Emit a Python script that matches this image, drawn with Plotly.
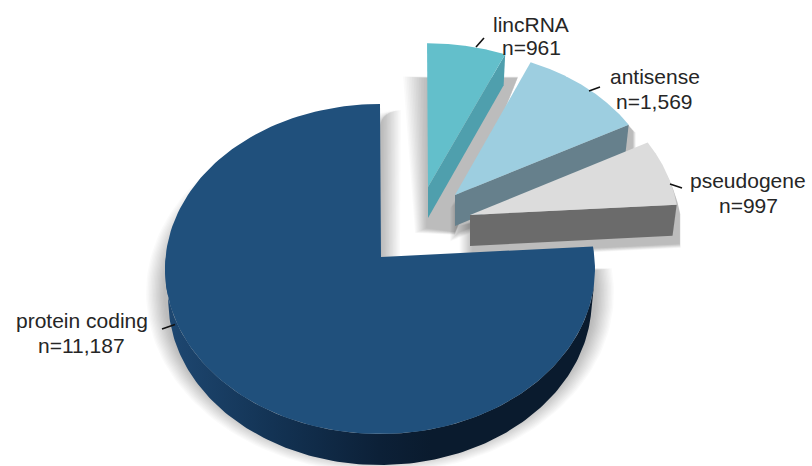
import numpy as np
import plotly.graph_objects as go

# ---- data ----
categories = ["lincRNA", "antisense", "pseudogene", "protein coding"]
counts = [961, 1569, 997, 11187]

# ---- style ----
face_colors = ["#63bfcb", "#9dcee0", "#dcdcdc", "#20507c"]
side_colors = ["#4f9fad", "#66808c", "#6b6b6b", "#0f2a45"]
font_family = "Liberation Sans, Arial, sans-serif"
text_color = "#262626"

# ---- projection of the tilted disc, in pixel-valued axis units ----
CX, CY, A, B = 380.0, 269.0, 215.0, 165.0     # outline of the disc
AX0, AY0 = 381.0, 257.0                       # disc centre as seen in perspective
ETA = np.arctanh(0.073)                       # strength of the perspective
DEPTH = 31.0
BOTTOM_X = 0.985
# explosion of each slice: apex x, apex y, scale x, scale y
apex = {"lincRNA": (428, 187, .975, .94), "antisense": (455, 195, .955, .94),
        "pseudogene": (470, 215, .975, .975), "protein coding": (381, 257, 1.0, 1.0)}


def warp(theta):
    return 2 * np.arctan2(np.sin(theta / 2) * np.exp(-ETA), np.cos(theta / 2))


def rim(theta0, theta1, n=160):
    th = warp(np.linspace(theta0, theta1, n))
    return CX + A * np.sin(th), CY - B * np.cos(th)


def place(x, y, name):
    ax, ay, sx, sy = apex[name]
    return ax + sx * (x - AX0), ay + sy * (y - AY0)


fig = go.Figure()


def poly(x, y, color=None, grad=None):
    kw = dict(x=list(x), y=list(y), mode="lines", fill="toself", line=dict(width=0),
              hoverinfo="skip", showlegend=False)
    if grad is not None:
        kw["fillgradient"] = dict(type="horizontal", colorscale=grad)
        kw["fillcolor"] = None
    else:
        kw["fillcolor"] = color
    fig.add_trace(go.Scatter(**kw))


fractions = np.array(counts) / sum(counts)
edges = np.concatenate([[0], np.cumsum(fractions)]) * 2 * np.pi
SHADOW = "rgba(0,0,0,0.018)"
LAYERS = np.linspace(1, 0.05, 14)
geom = {}
for i, name in enumerate(categories):
    rx, ry = rim(edges[i], edges[i + 1])
    geom[name] = place(rx, ry, name)

# ---- soft shadows, stacked translucent layers ----
# main disc
for f in LAYERS:
    th = warp(np.linspace(edges[3], edges[4], 160))
    sx = CX + (A + 19 * f) * np.sin(th)
    sy = CY + 24 - (B + 15 * f) * np.cos(th)
    d = 19 * f
    poly(list(sx) + [CX + 2 + d, AX0 + d],
         list(sy) + [110, AY0 + 6], SHADOW)
# lincRNA
lx, ly = geom["lincRNA"]
for f in LAYERS:
    d = 24 * f
    poly([lx[0] - d, 518, 455, lx[0] - d * .5],
         [78 - 1.5 * f, 78 - 1.5 * f, 232 + 3 * f, 228 + 5 * f], SHADOW)
# antisense and pseudogene
for name, grow, off in (("antisense", .07, (4, 6)), ("pseudogene", .07, (3, 8))):
    px, py = geom[name]
    ax, ay = apex[name][:2]
    xs = np.array([ax] + list(px) + [px[-1], ax])
    ys = np.array([ay] + list(py) + [py[-1] + DEPTH, ay + DEPTH])
    mx, my = xs.mean(), ys.mean()
    for f in LAYERS:
        poly(mx + off[0] + (xs - mx) * (1 + grow * f),
             my + off[1] + (ys - my) * (1 + grow * f), SHADOW)

# ---- protein coding: outer wall, then face ----
wx, wy = rim(np.pi / 2 + 0.17, 3 * np.pi / 2)
wall_x = np.concatenate([wx, AX0 + (wx[::-1] - AX0) * BOTTOM_X])
wall_y = np.concatenate([wy, wy[::-1] + DEPTH])
poly(wall_x, wall_y, grad=[[0, "#1e4872"], [0.25, "#133354"], [0.5, "#0c2037"], [0.62, "#0a1b2e"], [1, "#0a1b2e"]])
mx, my = geom["protein coding"]
poly([AX0] + list(mx) + [AX0], [AY0] + list(my) + [AY0], face_colors[3])

# ---- exploded slices: visible radial wall, then face ----
for i, name in enumerate(categories[:3]):
    px, py = geom[name]
    ax, ay = apex[name][:2]
    ex, ey = px[-1], py[-1]
    poly([ax, ex, ax + (ex - ax) * (BOTTOM_X - .005), ax],
         [ay, ey, ey + DEPTH, ay + DEPTH], side_colors[i])
    poly([ax] + list(px) + [ax], [ay] + list(py) + [ay], face_colors[i])

# ---- labels and their short leader lines ----
label_pos = {"lincRNA": (531, 24, 47), "antisense": (654.5, 76, 101),
             "pseudogene": (748, 180, 205), "protein coding": (81.5, 320, 345)}
leaders = {"lincRNA": ((476, 47), (484, 38)), "antisense": ((589, 91), (600, 87)),
           "pseudogene": ((670, 184), (682, 188)), "protein coding": ((162, 329), (175, 324.5))}
for name, n in zip(categories, counts):
    lx_, y1, y2 = label_pos[name]
    for text, yy in ((name, y1), (f"n={n:,}", y2)):
        fig.add_annotation(x=lx_, y=yy, text=text, showarrow=False,
                           font=dict(family=font_family, size=21, color=text_color),
                           align="center", xanchor="center", yanchor="middle")
    a, b = leaders[name]
    fig.add_shape(type="line", x0=a[0], y0=a[1], x1=b[0], y1=b[1],
                  line=dict(color="#111111", width=1.6))

fig.update_layout(
    width=812, height=466, autosize=False, margin=dict(l=0, r=0, t=0, b=0),
    paper_bgcolor="white", plot_bgcolor="white", showlegend=False,
    xaxis=dict(range=[0, 812], visible=False, fixedrange=True),
    yaxis=dict(range=[466, 0], visible=False, fixedrange=True),
)
fig.write_html("out.html", config={"displayModeBar": False},
               post_script="document.body.style.margin='0';document.body.style.overflow='hidden';")
